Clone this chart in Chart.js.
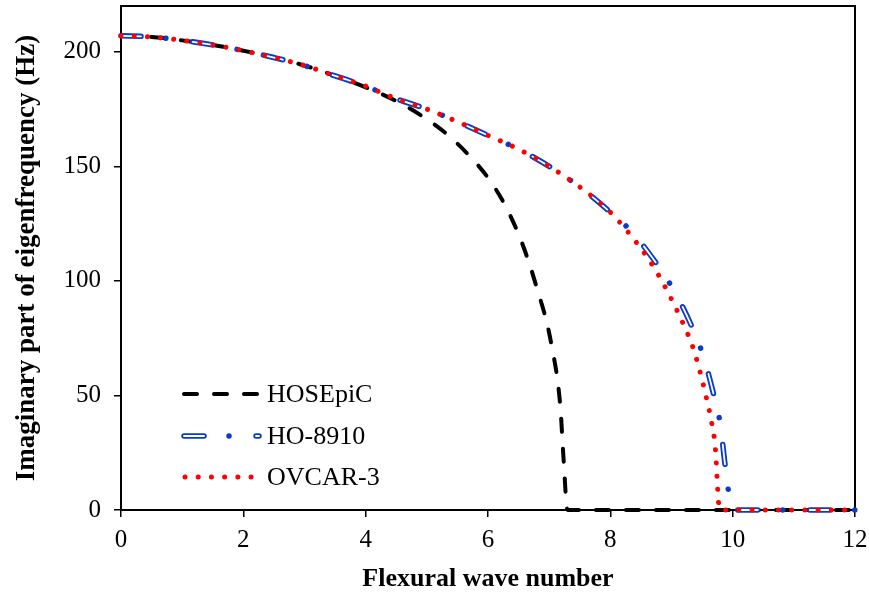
<!DOCTYPE html>
<html><head><meta charset="utf-8">
<script src="https://cdn.jsdelivr.net/npm/chart.js@4"></script>
<style>html,body{margin:0;padding:0;background:#fff}</style>
</head><body>
<div style="width:869px;height:597px"><canvas id="c" width="869" height="597"></canvas></div>
<script>
// ---- data ----
const seriesNames = ['HOSEpiC', 'HO-8910', 'OVCAR-3'];
const xTickValues = [0, 2, 4, 6, 8, 10, 12];
const yTickValues = [0, 50, 100, 150, 200];

const kHOSEpiC = [0,0.5,1,1.5,2,2.5,3,3.5,4,4.5,4.92,5.33,5.7,6.0,6.27,6.49,6.67,6.82,6.96,7.06,7.14,7.19,7.22,7.25,7.28,7.3,8,9,10,11,12];
const fHOSEpiC = [207,206.5,205,203,200.5,197.5,194,189.5,184.5,178.5,172,164,154.5,145,133.5,121,108,95,82,69,56,42.5,29,16,3,0,0,0,0,0,0];

const kHO8910 = [0,0.5,1,1.5,2,2.5,3,3.5,4,4.5,5,5.5,6,6.5,7,7.5,8,8.33,8.69,9.02,9.3,9.51,9.67,9.8,9.87,9.95,9.99,10.5,11,11.5,12];
const fHO8910 = [207,206.5,205,203,200.5,197.5,194,189.5,185,179.5,175,169.5,163.5,157.5,150,141,130,122,110,96.7,82,68,52.5,37,21,5,0,0,0,0,0];

const kOVCAR3 = [0,0.5,1,1.5,2,2.5,3,3.5,4,4.5,5,5.5,6,6.5,7,7.5,8,8.3,8.56,8.8,9.0,9.18,9.35,9.47,9.57,9.66,9.72,9.745,9.77,9.8,10,10.5,11,11.5,12];
const fOVCAR3 = [207,206.5,205,203,200.5,197.5,194,189.5,185,179.5,175,169.5,163.5,157.5,150,141,130,121,112,102,92,82,71,60,49,37.6,26,14,3,0,0,0,0,0,0];

const toPts = (ks, fs) => ks.map((k, i) => ({x: k, y: fs[i]}));

// ---- styles ----
const BLACK_DASH = [13, 17];
const BLUE_DASH = [20, 25, 0.01, 27];
const WHITE_DASH = [20, 52.01];
const RED_DOT = [0.01, 13.2];

const common = {showLine: true, pointRadius: 0, fill: false, cubicInterpolationMode: 'monotone', clip: false};

const datasets = [
  Object.assign({}, common, {label: seriesNames[2], data: toPts(kOVCAR3, fOVCAR3), borderColor: '#ff0000', borderWidth: 5, borderDash: RED_DOT, borderCapStyle: 'round', order: 0}),
  Object.assign({}, common, {label: seriesNames[1] + ' inner', data: toPts(kHO8910, fHO8910), borderColor: '#ffffff', borderWidth: 1.8, borderDash: WHITE_DASH, borderCapStyle: 'round', order: 1}),
  Object.assign({}, common, {label: seriesNames[1], data: toPts(kHO8910, fHO8910), borderColor: '#0a3ccc', borderWidth: 5.5, borderDash: BLUE_DASH, borderCapStyle: 'round', order: 2}),
  Object.assign({}, common, {label: seriesNames[0], data: toPts(kHOSEpiC, fHOSEpiC), borderColor: '#000000', borderWidth: 4, borderDash: BLACK_DASH, borderCapStyle: 'round', order: 3})
];

const FONT = "'Liberation Serif', 'Times New Roman', serif";

const framePlugin = {
  id: 'frame',
  beforeDatasetsDraw(chart) {
    const {ctx, chartArea: a} = chart;
    ctx.save();
    ctx.strokeStyle = '#000';
    ctx.lineWidth = 2;
    ctx.strokeRect(a.left, a.top, a.right - a.left, a.bottom - a.top);
    ctx.restore();
  }
};

const legendPlugin = {
  id: 'customLegend',
  afterDatasetsDraw(chart) {
    const {ctx} = chart;
    ctx.save();
    const x0 = 184, x1 = 259, tx = 267;
    const rows = [
      {y: 394, name: seriesNames[0]},
      {y: 436, name: seriesNames[1]},
      {y: 477, name: seriesNames[2]}
    ];
    const seg = (y, color, w, dash, xa, xb) => {
      ctx.beginPath();
      ctx.setLineDash(dash);
      ctx.lineCap = 'round';
      ctx.strokeStyle = color;
      ctx.lineWidth = w;
      ctx.moveTo(xa, y); ctx.lineTo(xb, y);
      ctx.stroke();
    };
    seg(rows[0].y, '#000', 4, BLACK_DASH, x0, x1 + 3);
    seg(rows[1].y, '#0a3ccc', 5.5, BLUE_DASH, x0, x1);
    seg(rows[1].y, '#fff', 1.8, WHITE_DASH, x0, x1);
    seg(rows[2].y, '#ff0000', 5, RED_DOT, x0 + 1, x1 - 7);
    ctx.setLineDash([]);
    ctx.fillStyle = '#000';
    ctx.font = '26px ' + FONT;
    ctx.textBaseline = 'middle';
    ctx.textAlign = 'left';
    rows.forEach(r => ctx.fillText(r.name, tx, r.y + 1));
    ctx.restore();
  }
};

new Chart(document.getElementById('c'), {
  type: 'scatter',
  data: {datasets},
  options: {
    responsive: false,
    animation: false,
    layout: {padding: {top: 6, right: 14, left: 0, bottom: 0}},
    plugins: {legend: {display: false}, tooltip: {enabled: false}},
    scales: {
      x: {
        type: 'linear', min: 0, max: 12,
        afterBuildTicks: s => { s.ticks = xTickValues.map(v => ({value: v})); },
        afterFit: s => { s.height = 87; s.paddingLeft = 0; s.paddingRight = 0; s.paddingTop = 0; s.paddingBottom = 0; },
        ticks: {color: '#000', font: {family: FONT, size: 25}, padding: 8, maxRotation: 0},
        grid: {display: true, drawOnChartArea: false, drawTicks: true, tickLength: 7, color: '#000', lineWidth: 1.5},
        border: {display: false},
        title: {display: true, text: 'Flexural wave number', color: '#000', font: {family: FONT, size: 26, weight: 'bold'}, padding: {top: 0, bottom: 2}}
      },
      y: {
        type: 'linear', min: 0, max: 220,
        afterBuildTicks: s => { s.ticks = yTickValues.map(v => ({value: v})); },
        afterFit: s => { s.width = 121; s.paddingLeft = 0; s.paddingRight = 0; s.paddingTop = 0; s.paddingBottom = 0; },
        ticks: {color: '#000', font: {family: FONT, size: 25}, padding: 13},
        grid: {display: true, drawOnChartArea: false, drawTicks: true, tickLength: 7, color: '#000', lineWidth: 1.5},
        border: {display: false},
        title: {display: true, text: 'Imaginary part of eigenfrequency (Hz)', color: '#000', font: {family: FONT, size: 27, weight: 'bold'}, padding: {top: 11, bottom: 0}}
      }
    }
  },
  plugins: [framePlugin, legendPlugin]
});
</script>
</body></html>
